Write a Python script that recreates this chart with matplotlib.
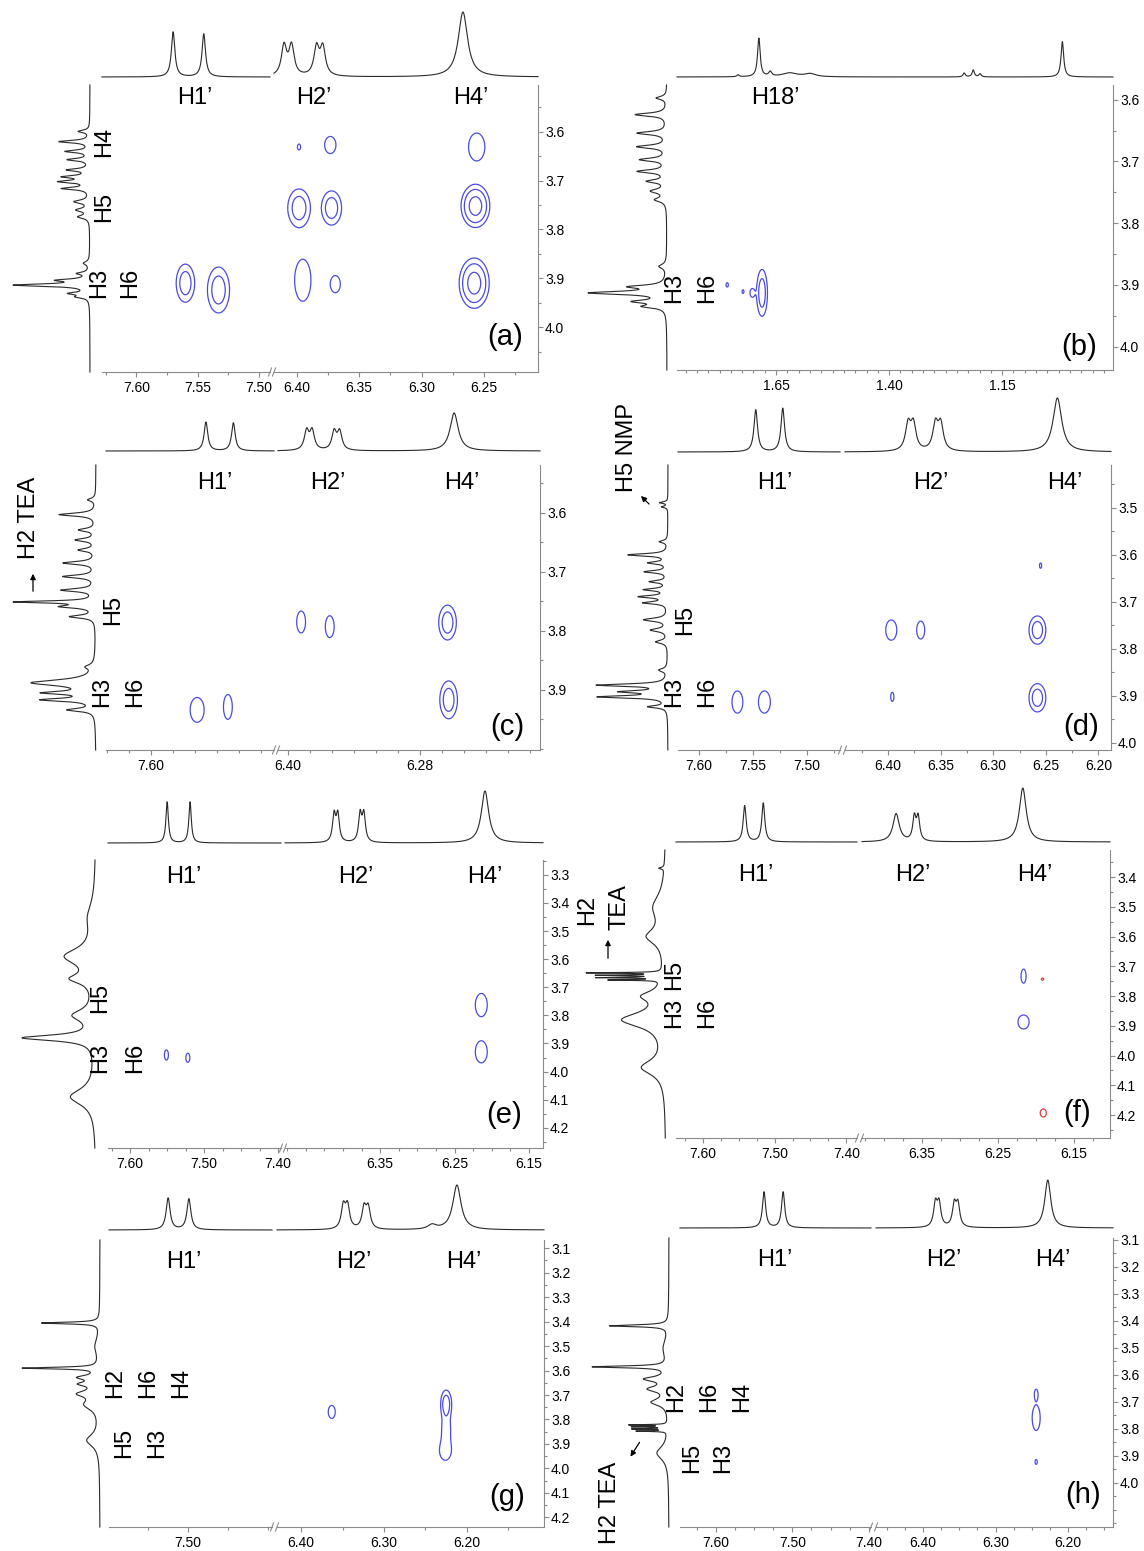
import numpy as np
import matplotlib
matplotlib.use("Agg")
import matplotlib.pyplot as plt
from matplotlib.ticker import FixedLocator, MultipleLocator, FormatStrFormatter

plt.rcParams["font.family"] = ["Liberation Sans", "DejaVu Sans"]

W, H = 1144, 1551
BLUE = "#4b4be0"
RED = "#e03c3c"
AXC = "#8a8a8a"
INK = "#2a2a2a"

# ---------------- data (ppm) ----------------
# 1D traces: (shift, relative height, half width)
a_top = [(7.570, 0.68, 0.0017), (7.545, 0.65, 0.0017), (6.410, 0.45, 0.0025), (6.404, 0.45, 0.0025),
         (6.384, 0.42, 0.0025), (6.379, 0.42, 0.0025), (6.267, 0.98, 0.0045)]
a_side = [(3.599, 0.15, 0.003), (3.620, 0.41, 0.003), (3.640, 0.32, 0.003), (3.657, 0.29, 0.003),
          (3.678, 0.29, 0.003), (3.692, 0.34, 0.003), (3.702, 0.39, 0.003), (3.716, 0.36, 0.003),
          (3.743, 0.20, 0.004), (3.760, 0.17, 0.004), (3.774, 0.15, 0.004), (3.869, 0.08, 0.004),
          (3.890, 0.15, 0.003), (3.904, 0.39, 0.003), (3.914, 1.00, 0.003), (3.931, 0.25, 0.003),
          (3.938, 0.15, 0.003)]
b_top = [(1.734, 0.05, 0.003), (1.688, 1.00, 0.0035), (1.663, 0.12, 0.004), (1.620, 0.10, 0.02),
         (1.575, 0.08, 0.015), (1.234, 0.10, 0.003), (1.214, 0.18, 0.003), (1.199, 0.08, 0.003),
         (1.017, 0.92, 0.0035)]
b_side = [(3.597, 0.14, 0.003), (3.624, 0.42, 0.003), (3.654, 0.39, 0.003), (3.676, 0.39, 0.003),
          (3.697, 0.35, 0.003), (3.716, 0.38, 0.003), (3.732, 0.25, 0.003), (3.748, 0.20, 0.004),
          (3.762, 0.15, 0.004), (3.870, 0.10, 0.004), (3.903, 0.45, 0.003), (3.913, 1.00, 0.003),
          (3.927, 0.40, 0.003), (3.935, 0.28, 0.003)]
c_top = [(7.550, 0.76, 0.002), (7.525, 0.74, 0.002), (6.383, 0.50, 0.0025), (6.378, 0.50, 0.0025),
         (6.358, 0.48, 0.0025), (6.353, 0.48, 0.0025), (6.249, 1.00, 0.0045)]
c_side = [(3.578, 0.10, 0.003), (3.603, 0.47, 0.003), (3.629, 0.21, 0.003), (3.646, 0.25, 0.003),
          (3.663, 0.21, 0.003), (3.685, 0.41, 0.003), (3.708, 0.41, 0.003), (3.731, 0.43, 0.003),
          (3.751, 1.00, 0.002), (3.759, 0.41, 0.003), (3.776, 0.32, 0.003), (3.861, 0.10, 0.004),
          (3.888, 0.81, 0.006), (3.905, 0.59, 0.003), (3.917, 0.65, 0.003), (3.934, 0.34, 0.003)]
d_top = [(7.547, 0.78, 0.002), (7.522, 0.81, 0.002), (6.381, 0.48, 0.003), (6.376, 0.48, 0.003),
         (6.355, 0.48, 0.003), (6.350, 0.48, 0.003), (6.239, 1.00, 0.005)]
d_side = [(3.489, 0.12, 0.002), (3.498, 0.09, 0.002), (3.572, 0.12, 0.003), (3.600, 0.57, 0.003),
          (3.617, 0.27, 0.003), (3.636, 0.33, 0.003), (3.657, 0.25, 0.003), (3.674, 0.33, 0.003),
          (3.689, 0.40, 0.003), (3.702, 0.34, 0.003), (3.738, 0.34, 0.004), (3.760, 0.24, 0.004),
          (3.785, 0.17, 0.004), (3.845, 0.12, 0.004), (3.877, 1.00, 0.003), (3.891, 0.62, 0.003),
          (3.902, 0.97, 0.003), (3.923, 0.27, 0.003)]
e_top = [(7.550, 0.79, 0.002), (7.519, 0.79, 0.002), (6.412, 0.52, 0.0025), (6.407, 0.52, 0.0025),
         (6.377, 0.53, 0.0025), (6.372, 0.53, 0.0025), (6.209, 1.00, 0.006)]
e_side = [(3.45, 0.08, 0.06), (3.59, 0.35, 0.035), (3.67, 0.25, 0.02), (3.80, 0.25, 0.025),
          (3.88, 0.85, 0.012), (4.09, 0.30, 0.035)]
f_top = [(7.542, 0.67, 0.0025), (7.516, 0.72, 0.0025), (6.384, 0.52, 0.005), (6.360, 0.43, 0.0025),
         (6.355, 0.43, 0.0025), (6.217, 1.00, 0.0055)]
f_side = [(3.370, 0.07, 0.003), (3.50, 0.15, 0.05), (3.60, 0.22, 0.03), (3.722, 0.95, 0.0015),
          (3.730, 0.80, 0.0015), (3.738, 0.80, 0.0015), (3.746, 0.65, 0.0015), (3.80, 0.25, 0.02),
          (3.88, 0.55, 0.03), (4.04, 0.30, 0.03)]
g_top = [(7.525, 0.71, 0.003), (7.499, 0.69, 0.003), (6.349, 0.50, 0.003), (6.344, 0.50, 0.003),
         (6.324, 0.46, 0.003), (6.319, 0.46, 0.003), (6.242, 0.10, 0.006), (6.212, 1.00, 0.006)]
g_side = [(3.406, 0.77, 0.004), (3.50, 0.06, 0.04), (3.590, 1.00, 0.004), (3.628, 0.25, 0.01),
          (3.655, 0.22, 0.01), (3.695, 0.25, 0.015), (3.74, 0.18, 0.025), (3.885, 0.17, 0.03)]
h_top = [(7.537, 0.75, 0.0025), (7.512, 0.75, 0.0025), (6.383, 0.48, 0.003), (6.378, 0.48, 0.003),
         (6.357, 0.46, 0.003), (6.352, 0.46, 0.003), (6.228, 1.00, 0.005)]
h_side = [(3.418, 0.79, 0.004), (3.50, 0.07, 0.04), (3.570, 1.00, 0.004), (3.615, 0.30, 0.01),
          (3.652, 0.25, 0.012), (3.701, 0.22, 0.015), (3.785, 0.50, 0.0015), (3.792, 0.45, 0.0015),
          (3.800, 0.45, 0.0015), (3.808, 0.40, 0.0015), (3.889, 0.16, 0.03)]

# cross peaks: (f2 ppm, f1 ppm, outer width, outer height, number of contour rings)
a_cross = [(6.398, 3.631, 0.0025, 0.012, 1), (6.373, 3.627, 0.009, 0.035, 1), (6.256, 3.631, 0.013, 0.057, 1),
           (6.398, 3.756, 0.018, 0.078, 2), (6.372, 3.756, 0.016, 0.070, 2), (6.257, 3.752, 0.023, 0.088, 3),
           (7.560, 3.910, 0.015, 0.078, 2), (7.533, 3.924, 0.018, 0.094, 2), (6.395, 3.904, 0.013, 0.086, 1),
           (6.369, 3.912, 0.008, 0.035, 1), (6.258, 3.910, 0.024, 0.103, 3)]
b_cross = [(1.681, 3.913, 0.024, 0.076, 2), (1.758, 3.900, 0.005, 0.007, 1), (1.723, 3.911, 0.004, 0.006, 1),
           (1.703, 3.913, 0.009, 0.013, 1)]
c_cross = [(7.558, 3.934, 0.0127, 0.042, 1), (7.530, 3.929, 0.008, 0.042, 1), (6.388, 3.785, 0.008, 0.037, 1),
           (6.362, 3.793, 0.008, 0.037, 1), (6.255, 3.786, 0.016, 0.059, 2), (6.254, 3.917, 0.016, 0.064, 2)]
d_cross = [(7.564, 3.913, 0.010, 0.047, 1), (7.539, 3.913, 0.011, 0.047, 1), (6.397, 3.760, 0.0105, 0.043, 1),
           (6.369, 3.760, 0.0076, 0.038, 1), (6.396, 3.902, 0.003, 0.019, 1), (6.258, 3.760, 0.016, 0.060, 2),
           (6.258, 3.904, 0.016, 0.060, 2), (6.255, 3.623, 0.002, 0.011, 1)]
e_cross = [(7.551, 3.941, 0.0054, 0.036, 1), (7.522, 3.951, 0.0054, 0.032, 1), (6.214, 3.763, 0.016, 0.082, 1),
           (6.214, 3.930, 0.016, 0.078, 1)]
f_cross = [(6.216, 3.733, 0.0066, 0.047, 1), (6.216, 3.887, 0.0146, 0.047, 1)]
f_neg = [(6.191, 3.743, 0.003, 0.007, 1), (6.190, 4.193, 0.008, 0.027, 1)]
g_cross = [(6.363, 3.769, 0.0084, 0.053, 1), (6.225, 3.735, 0.013, 0.11, 2), (6.225, 3.84, 0.010, 0.09, 1),
           (6.226, 3.93, 0.013, 0.07, 1)]
h_cross = [(6.244, 3.670, 0.004, 0.030, 1), (6.244, 3.759, 0.011, 0.093, 1), (6.244, 3.922, 0.003, 0.018, 1)]

# axis labels
a_xticks = [[7.60, 7.55, 7.50], [6.40, 6.35, 6.30, 6.25]]
b_xticks = [[1.65, 1.40, 1.15]]
c_xticks = [[7.60], [6.40, 6.28]]
d_xticks = [[7.60, 7.55, 7.50], [6.40, 6.35, 6.30, 6.25, 6.20]]
e_xticks = [[7.60, 7.50, 7.40], [6.35, 6.25, 6.15]]
f_xticks = [[7.60, 7.50, 7.40], [6.35, 6.25, 6.15]]
g_xticks = [[7.50], [6.40, 6.30, 6.20]]
h_xticks = [[7.60, 7.50, 7.40], [6.40, 6.30, 6.20]]
a_yticks = [3.6, 3.7, 3.8, 3.9, 4.0]
b_yticks = [3.6, 3.7, 3.8, 3.9, 4.0]
c_yticks = [3.6, 3.7, 3.8, 3.9]
d_yticks = [3.5, 3.6, 3.7, 3.8, 3.9, 4.0]
e_yticks = [3.3, 3.4, 3.5, 3.6, 3.7, 3.8, 3.9, 4.0, 4.1, 4.2]
f_yticks = [3.4, 3.5, 3.6, 3.7, 3.8, 3.9, 4.0, 4.1, 4.2]
g_yticks = [3.1, 3.2, 3.3, 3.4, 3.5, 3.6, 3.7, 3.8, 3.9, 4.0, 4.1, 4.2]
h_yticks = [3.1, 3.2, 3.3, 3.4, 3.5, 3.6, 3.7, 3.8, 3.9, 4.0]

# ---------------- layout (pixels) ----------------
# segs: (ppm left, ppm right, px left, px right); box: (y top, y bottom) with ppm ylim
panels = [
    dict(tag="(a)", tagpos=(505, 337), segs=[(7.628, 7.491, 102, 270), (6.418, 6.207, 274, 538)],
         box=(85, 372), ylim=(3.504, 4.092), top=(12, 77), side=(13, 90), xminor=0.025,
         xticks=a_xticks, yticks=a_yticks, top_peaks=a_top, side_peaks=a_side, cross=a_cross, neg=[],
         texts=[("H1’", 195, 98, 0), ("H2’", 314, 98, 0), ("H4’", 471, 98, 0), ("H4", 104, 142, 90),
                ("H5", 104, 207, 90), ("H3", 99, 283, 90), ("H6", 130, 283, 90)], arrows=[]),
    dict(tag="(b)", tagpos=(1079, 347), segs=[(1.869, 0.905, 677, 1113)],
         box=(85, 370), ylim=(3.576, 4.038), top=(38, 77), side=(588, 667), xminor=0.025,
         xticks=b_xticks, yticks=b_yticks, top_peaks=b_top, side_peaks=b_side, cross=b_cross, neg=[],
         texts=[("H18’", 775, 98, 0), ("H3", 674, 288, 90), ("H6", 707, 288, 90)], arrows=[]),
    dict(tag="(c)", tagpos=(507, 727), segs=[(7.641, 7.488, 106, 274), (6.409, 6.171, 278, 540)],
         box=(465, 750), ylim=(3.519, 4.002), top=(413, 451), side=(13, 96), xminor=0.02,
         xticks=c_xticks, yticks=c_yticks, top_peaks=c_top, side_peaks=c_side, cross=c_cross, neg=[],
         texts=[("H1’", 215, 483, 0), ("H2’", 328, 483, 0), ("H4’", 462, 483, 0), ("H2 TEA", 29, 518, 90),
                ("H5", 113, 610, 90), ("H3", 102, 692, 90), ("H6", 135, 692, 90)],
         arrows=[((33, 594), (33, 571))]),
    dict(tag="(d)", tagpos=(1081, 727), segs=[(7.619, 7.469, 678, 840), (6.441, 6.188, 845, 1111)],
         box=(465, 750), ylim=(3.409, 4.015), top=(398, 452), side=(596, 668), xminor=0.025,
         xticks=d_xticks, yticks=d_yticks, top_peaks=d_top, side_peaks=d_side, cross=d_cross, neg=[],
         texts=[("H1’", 775, 483, 0), ("H2’", 931, 483, 0), ("H4’", 1065, 483, 0), ("H5 NMP", 627, 447, 90),
                ("H5", 685, 620, 90), ("H3", 674, 692, 90), ("H6", 707, 692, 90)],
         arrows=[((651, 506), (639, 494))]),
    dict(tag="(e)", tagpos=(504, 1115), segs=[(7.630, 7.396, 108, 281), (6.478, 6.131, 285, 543)],
         box=(860, 1148), ylim=(3.247, 4.272), top=(791, 843), side=(22, 96), xminor=0.025,
         xticks=e_xticks, yticks=e_yticks, top_peaks=e_top, side_peaks=e_side, cross=e_cross, neg=[],
         texts=[("H1’", 184, 877, 0), ("H2’", 356, 877, 0), ("H4’", 485, 877, 0), ("H5", 100, 998, 90),
                ("H3", 100, 1058, 90), ("H6", 135, 1058, 90)], arrows=[]),
    dict(tag="(f)", tagpos=(1077, 1113), segs=[(7.638, 7.385, 676, 857), (6.429, 6.102, 862, 1110)],
         box=(850, 1138), ylim=(3.309, 4.277), top=(788, 842), side=(586, 666), xminor=0.025,
         xticks=f_xticks, yticks=f_yticks, top_peaks=f_top, side_peaks=f_side, cross=f_cross, neg=f_neg,
         texts=[("H1’", 756, 875, 0), ("H2’", 913, 875, 0), ("H4’", 1035, 875, 0), ("H2", 587, 910, 90),
                ("TEA", 619, 907, 90), ("H5", 674, 975, 90), ("H3", 674, 1013, 90), ("H6", 707, 1013, 90)],
         arrows=[((608, 961), (608, 937))]),
    dict(tag="(g)", tagpos=(507, 1497), segs=[(7.599, 7.395, 109, 272), (6.429, 6.107, 277, 544)],
         box=(1240, 1527), ylim=(3.067, 4.239), top=(1185, 1230), side=(22, 100), xminor=0.05,
         xticks=g_xticks, yticks=g_yticks, top_peaks=g_top, side_peaks=g_side, cross=g_cross, neg=[],
         texts=[("H1’", 184, 1262, 0), ("H2’", 354, 1262, 0), ("H4’", 464, 1262, 0), ("H2", 115, 1383, 90),
                ("H6", 148, 1383, 90), ("H4", 181, 1383, 90), ("H5", 124, 1443, 90), ("H3", 157, 1443, 90)],
         arrows=[]),
    dict(tag="(h)", tagpos=(1083, 1495), segs=[(7.647, 7.397, 680, 871), (6.465, 6.138, 876, 1113)],
         box=(1238, 1527), ylim=(3.093, 4.163), top=(1180, 1228), side=(592, 669), xminor=0.025,
         xticks=h_xticks, yticks=h_yticks, top_peaks=h_top, side_peaks=h_side, cross=h_cross, neg=[],
         texts=[("H1’", 775, 1260, 0), ("H2’", 944, 1260, 0), ("H4’", 1053, 1260, 0), ("H2 TEA", 610, 1503, 90),
                ("H2", 676, 1397, 90), ("H6", 709, 1397, 90), ("H4", 742, 1397, 90), ("H5", 692, 1458, 90),
                ("H3", 723, 1458, 90)],
         arrows=[((641, 1440), (629, 1459))]),
]

RING_AMP = {1: 1.6, 2: 3.0, 3: 5.5}
LEVELS = [1.0, 2.0, 4.0]


def rect(x0, y0, x1, y1):
    return [x0 / W, 1 - y1 / H, (x1 - x0) / W, (y1 - y0) / H]


def lorentz(x, peaks):
    y = np.zeros_like(x, dtype=float)
    for c, h, w in peaks:
        y += h * w * w / ((x - c) ** 2 + w * w)
    return y


def plane(X, Y, peaks):
    Z = np.zeros_like(X)
    for x, y, w, h, n in peaks:
        a = RING_AMP[n]
        k = np.sqrt(2 * np.log(a))
        sx, sy = w / 2 / k, h / 2 / k
        Z += a * np.exp(-0.5 * (((X - x) / sx) ** 2 + ((Y - y) / sy) ** 2))
    return Z


fig = plt.figure(figsize=(W / 100, H / 100), dpi=100)

for p in panels:
    y0, y1 = p["box"]
    ytop, ybot = p["ylim"]
    segs = p["segs"]
    tnorm = lorentz(np.array([c for c, _, _ in p["top_peaks"]]), p["top_peaks"]).max()

    for i, (pl, pr, xa, xb) in enumerate(segs):
        last = i == len(segs) - 1
        ax = fig.add_axes(rect(xa, y0, xb, y1))
        ax.patch.set_visible(False)
        gx = np.linspace(pr, pl, 1100)
        gy = np.linspace(ytop, ybot, 900)
        X, Y = np.meshgrid(gx, gy)
        ax.contour(X, Y, plane(X, Y, p["cross"]), levels=LEVELS, colors=BLUE, linewidths=0.9)
        if p["neg"]:
            ax.contour(X, Y, plane(X, Y, p["neg"]), levels=LEVELS, colors=RED, linewidths=0.9)
        ax.set_xlim(pl, pr)
        ax.set_ylim(ybot, ytop)
        ax.spines["top"].set_visible(False)
        ax.spines["left"].set_visible(False)
        ax.spines["right"].set_visible(last)
        for s in ("bottom", "right"):
            ax.spines[s].set_color(AXC)
            ax.spines[s].set_linewidth(0.8)
        ax.xaxis.set_major_locator(FixedLocator(p["xticks"][i]))
        ax.xaxis.set_major_formatter(FormatStrFormatter("%.2f"))
        ax.xaxis.set_minor_locator(MultipleLocator(p["xminor"]))
        ax.tick_params(axis="x", which="both", direction="out", colors=AXC, labelcolor="black",
                       labelsize=10, width=0.8, pad=3)
        ax.tick_params(axis="x", which="major", length=3.5)
        ax.tick_params(axis="x", which="minor", length=2.5)
        if last:
            ax.yaxis.set_ticks_position("right")
            ax.yaxis.set_major_locator(FixedLocator(p["yticks"]))
            ax.yaxis.set_major_formatter(FormatStrFormatter("%.1f"))
            ax.yaxis.set_minor_locator(MultipleLocator(0.05))
            ax.tick_params(axis="y", which="both", direction="out", colors=AXC, labelcolor="black",
                           labelsize=10, width=0.8, pad=1.5)
            ax.tick_params(axis="y", which="major", length=3.5)
            ax.tick_params(axis="y", which="minor", length=2.5)
        else:
            ax.tick_params(axis="y", which="both", left=False, right=False,
                           labelleft=False, labelright=False)

        # projection on top
        tx = fig.add_axes(rect(xa, p["top"][0], xb, p["top"][1]))
        xs = np.linspace(pl, pr, 2500)
        tx.plot(xs, lorentz(xs, p["top_peaks"]) / tnorm, color=INK, lw=0.8, clip_on=False)
        tx.set_xlim(pl, pr)
        tx.set_ylim(0, 1)
        tx.axis("off")

    # projection on the left
    snorm = lorentz(np.array([c for c, _, _ in p["side_peaks"]]), p["side_peaks"]).max()
    sx = fig.add_axes(rect(p["side"][0], y0, p["side"][1], y1))
    ys = np.linspace(ytop, ybot, 4000)
    sx.plot(lorentz(ys, p["side_peaks"]) / snorm, ys, color=INK, lw=0.8, clip_on=False)
    sx.set_xlim(1, 0)
    sx.set_ylim(ybot, ytop)
    sx.axis("off")

# overlay in pixel units for labels, arrows and break marks
ov = fig.add_axes([0, 0, 1, 1])
ov.set_xlim(0, W)
ov.set_ylim(H, 0)
ov.axis("off")

for p in panels:
    y1 = p["box"][1]
    for s, x, y, rot in p["texts"]:
        ov.text(x, y, s, ha="center", va="center", rotation=rot, fontsize=17, color="black")
    ov.text(p["tagpos"][0], p["tagpos"][1], p["tag"], ha="center", va="center", fontsize=21)
    for tail, head in p["arrows"]:
        ov.annotate("", xy=head, xytext=tail,
                    arrowprops=dict(arrowstyle="-|>", color="black", lw=0.9, mutation_scale=8))
    segs = p["segs"]
    for cur, nxt in zip(segs[:-1], segs[1:]):
        for xx in (cur[3], nxt[2]):
            ov.plot([xx - 1.5, xx + 1.5], [y1 + 4, y1 - 4], color=AXC, lw=0.8)

fig.savefig("out.png", dpi=100)
